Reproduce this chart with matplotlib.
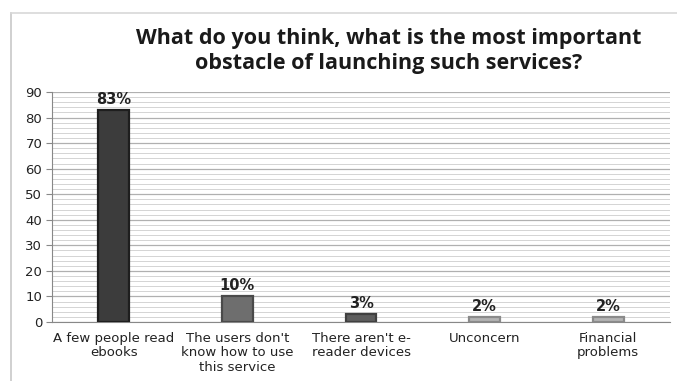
import matplotlib.pyplot as plt
import numpy as np
from matplotlib.lines import Line2D

categories = [
    "A few people read\nebooks",
    "The users don't\nknow how to use\nthis service",
    "There aren't e-\nreader devices",
    "Unconcern",
    "Financial\nproblems",
]
values = [83, 10, 3, 2, 2]
value_labels = ["83%", "10%", "3%", "2%", "2%"]
bar_colors = ["#3c3c3c", "#6e6e6e", "#5e5e5e", "#b4b4b4", "#b4b4b4"]
edge_colors = ["#1e1e1e", "#4a4a4a", "#404040", "#8a8a8a", "#8a8a8a"]

fig = plt.figure(figsize=(6.77, 3.81), dpi=100)
ax = fig.add_axes([52 / 677, 1 - 322 / 381, 618 / 677, 230 / 381])

x = np.arange(len(categories))

# minor and major gridlines
for v in range(0, 91, 2):
    if v % 10 == 0:
        ax.axhline(v, color="#b0b0b0", lw=0.9, zorder=0)
    else:
        ax.axhline(v, color="#d4d4d4", lw=0.7, zorder=0)

ax.bar(x, values, width=0.25, color=bar_colors, edgecolor=edge_colors,
       linewidth=1.6, zorder=3)

for xi, v, lab in zip(x, values, value_labels):
    ax.text(xi, v + 1.2, lab, ha="center", va="bottom", fontsize=10.5,
            fontweight="bold", color="#222222", family="DejaVu Sans")

ax.set_xlim(-0.5, len(categories) - 0.5)
ax.set_ylim(0, 90)
ax.set_yticks(range(0, 91, 10))
ax.set_xticks(x)
ax.set_xticklabels(categories, fontsize=9.5, color="#222222", linespacing=1.15)
ax.tick_params(axis="x", length=0, pad=7)
ax.tick_params(axis="y", labelsize=9.5, colors="#222222", length=4,
               color="#888888", pad=3)

for side in ["top", "right"]:
    ax.spines[side].set_visible(False)
ax.spines["left"].set_color("#888888")
ax.spines["bottom"].set_color("#888888")

fig.text(389 / 677, 1 - 51 / 381,
         "What do you think, what is the most important\nobstacle of launching such services?",
         ha="center", va="center", fontsize=15.5, fontweight="bold",
         family="Open Sans", color="#1a1a1a", linespacing=1.3)

# chart frame lines
fig.add_artist(Line2D([11 / 677, 11 / 677], [0, 1 - 13 / 381],
                      color="#c8c8c8", lw=1.2, transform=fig.transFigure))
fig.add_artist(Line2D([11 / 677, 1], [1 - 13 / 381, 1 - 13 / 381],
                      color="#d8d8d8", lw=1.2, transform=fig.transFigure))

fig.savefig("out.png", dpi=100, facecolor="white")
